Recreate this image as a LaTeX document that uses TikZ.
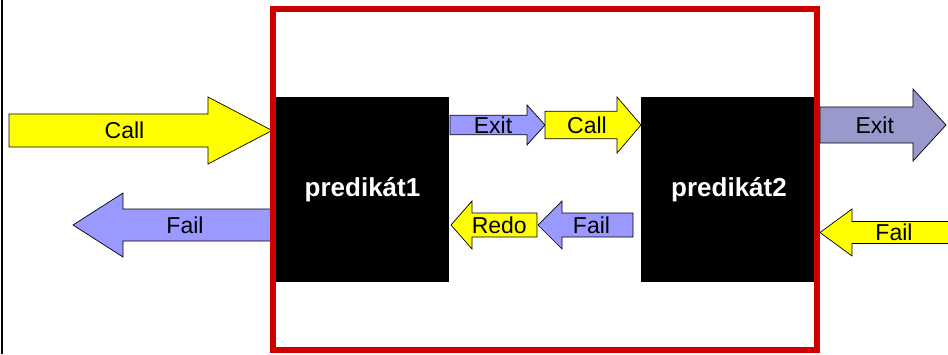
\documentclass[tikz,border=0pt]{standalone}
\usepackage{fontspec}
\setmainfont{Liberation Sans}
\usepackage{tikz}
\definecolor{callyellow}{HTML}{FFFF00}
\definecolor{exitblue}{HTML}{9999FF}
\definecolor{exitgrey}{HTML}{9999CC}
\definecolor{boxred}{HTML}{CC0000}
\tikzset{
  predbox/.style={fill=black, text=white, inner sep=0pt,
    font=\fontsize{26}{30}\selectfont\bfseries},
  arrowlabel/.style={inner sep=0pt, font=\fontsize{23}{27}\selectfont},
  blockline/.style={draw=black, line width=0.7pt, line join=miter},
}
% block arrow: name, colour, tail x, head base x, tip x, y, shaft half, head half, text
\newcommand{\blockarrow}[9]{%
  \draw[blockline, fill=#2] (#3,{#6-#7}) -- (#4,{#6-#7}) -- (#4,{#6-#8}) -- (#5,#6)
    -- (#4,{#6+#8}) -- (#4,{#6+#7}) -- (#3,{#6+#7}) -- cycle;
  \node[arrowlabel] (#1) at ({(#3+(#4+#5)/2)/2},#6) {#9};
}
\begin{document}
\begin{tikzpicture}[x=1pt, y=-1pt]
\useasboundingbox (0,0) rectangle (948,354);
% left margin line
\draw[line width=2pt] (2,0) -- (2,354);
% the two predicates
\node[predbox, minimum width=173pt, minimum height=185pt] (pred1) at (362.5,189.5) {predikát1};
\node[predbox, minimum width=176pt, minimum height=185pt] (pred2) at (729,189.5) {predikát2};
% ports
\blockarrow{callin}{callyellow}{9}{208}{272}{130.5}{16.5}{33.5}{Call}
\blockarrow{failout}{exitblue}{272}{123}{73}{225}{16}{32}{Fail}
\blockarrow{exitone}{exitblue}{450}{527}{545}{125}{9.7}{20}{Exit}
\blockarrow{calltwo}{callyellow}{545}{617}{641}{125}{13.7}{28}{Call}
\blockarrow{redoone}{callyellow}{537}{472}{451}{225}{12}{24}{Redo}
\blockarrow{failtwo}{exitblue}{633}{562}{538}{225}{12}{24}{Fail}
\blockarrow{exitout}{exitgrey}{820}{913}{946}{125}{18}{36}{Exit}
\blockarrow{failin}{callyellow}{952}{852}{820}{232.5}{11}{23.5}{Fail}
% conjunction box
\draw[boxred, line width=6pt] (273,9) rectangle (817,350);
\end{tikzpicture}
\end{document}
